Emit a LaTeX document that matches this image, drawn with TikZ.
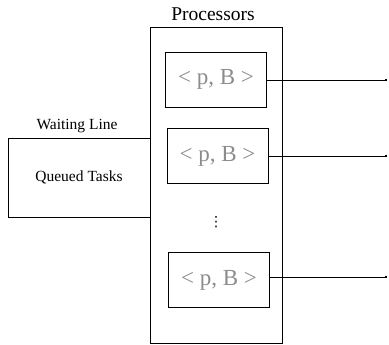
\documentclass[tikz,border=0pt]{standalone}
\usepackage{fontspec}
\setmainfont{Liberation Serif}
\newfontfamily\symfont{DejaVu Sans}
\usetikzlibrary{arrows.meta}
\begin{document}
\begin{tikzpicture}[x=1pt,y=-1pt,
  box/.style={draw,line width=0.9pt,inner sep=0pt},
  pbox/.style={box,minimum width=101pt,minimum height=55pt,
    font=\fontsize{23}{23}\selectfont,text=black!45},
  small/.style={font=\fontsize{15.5}{15.5}\selectfont},
  outline/.style={line width=0.9pt,-{Rectangle[length=2pt,width=2.5pt]}}]
\useasboundingbox (0,0) rectangle (389,345);
% processors
\node[box,minimum width=132pt,minimum height=316pt] (proc) at (216,185) {};
\node[font=\fontsize{19.5}{19.5}\selectfont] (proclabel) at (213,14) {Processors};
\node[pbox] (pb1) at (216,79.5) {< p, B >};
\node[pbox] (pb2) at (217.5,156) {< p, B >};
\node[pbox] (pb3) at (219,280) {< p, B >};
\node[font=\symfont\fontsize{14}{14}\selectfont] (dots) at (216,222) {⋮};
% waiting line
\node[box,minimum width=142pt,minimum height=79pt,small] (wait) at (79,177.5) {Queued Tasks};
\node[small] (waitlabel) at (77,126) {Waiting Line};
% outputs
\coordinate (o1) at (387,80);
\coordinate (o2) at (387,156);
\coordinate (o3) at (387,277);
\draw[outline] (pb1.east |- o1) -- (o1);
\draw[outline] (pb2.east |- o2) -- (o2);
\draw[outline] (pb3.east |- o3) -- (o3);
\end{tikzpicture}
\end{document}
